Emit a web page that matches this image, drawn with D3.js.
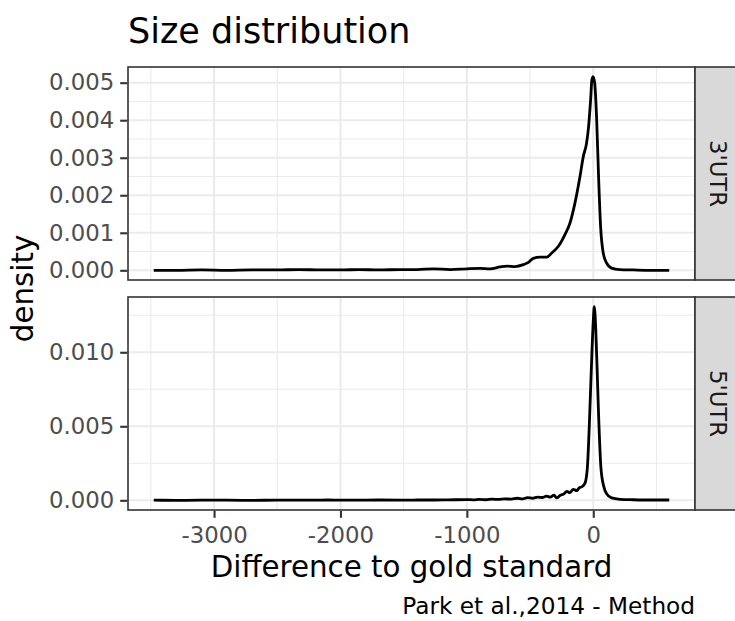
<!DOCTYPE html>
<html>
<head>
<meta charset="utf-8">
<script src="https://cdn.jsdelivr.net/npm/d3@7"></script>
<style>
  html, body { margin: 0; padding: 0; background: #ffffff; }
  svg { display: block; font-family: "DejaVu Sans", sans-serif; }
</style>
</head>
<body>
<script>
// ---------------- data ----------------
const facets = ["3'UTR", "5'UTR"];

// 3'UTR density curve
const x3 = [-3477, -3300, -3100, -2900, -2700, -2500, -2330, -2150, -2000, -1850, -1700, -1526,
  -1395, -1263, -1132, -1000, -895, -816, -737, -684, -618, -553, -513, -474, -421, -368,
  -329, -276, -224, -184, -145, -105, -79, -53, -37, -21, -11, -2, 11, 26, 42, 58, 79, 105,
  145, 211, 316, 450, 601];
const d3utr = [0.00000, 0.00000, 0.00001, 0.00000, 0.00001, 0.00001, 0.00002, 0.00001, 0.00001, 0.00002, 0.00001, 0.00002,
  0.00002, 0.00004, 0.00002, 0.00004, 0.00005, 0.00004, 0.00009, 0.00011, 0.00010, 0.00015, 0.00021, 0.00032, 0.00035, 0.00035,
  0.00046, 0.00064, 0.00095, 0.00126, 0.00179, 0.00250, 0.00303, 0.00339, 0.00383, 0.00454, 0.00507, 0.00516, 0.00500, 0.00410, 0.00250, 0.00117, 0.00046, 0.00020,
  0.00006, 0.00002, 0.00001, 0.00000, 0.00000];

// 5'UTR density curve
const x5 = [-3477, -3300, -3100, -2900, -2700, -2500, -2300, -2100, -1900, -1700, -1526, -1400,
  -1263, -1150, -1000, -950, -900, -850, -800, -750, -700, -650, -600, -560, -520, -480, -440,
  -400, -370, -340, -310, -290, -260, -230, -210, -185, -158, -131, -110, -92, -66, -47, -32,
  -16, 0, 8, 20, 30, 42, 61, 84, 105, 145, 211, 316, 450, 601];
const d5utr = [0.00001, 0.00000, 0.00001, 0.00001, 0.00000, 0.00001, 0.00001, 0.00002, 0.00001, 0.00002, 0.00001, 0.00002,
  0.00002, 0.00003, 0.00005, 0.00003, 0.00006, 0.00004, 0.00008, 0.00006, 0.00010, 0.00008, 0.00014, 0.00010, 0.00018, 0.00014, 0.00022,
  0.00019, 0.00028, 0.00022, 0.00035, 0.00016, 0.00034, 0.00045, 0.00061, 0.00052, 0.00074, 0.00065, 0.00085, 0.00091, 0.00115, 0.00216, 0.00490,
  0.00870, 0.01210, 0.01308, 0.01150, 0.00900, 0.00580, 0.00216, 0.00091, 0.00045, 0.00016, 0.00007, 0.00004, 0.00002, 0.00002];

const xTicks = [-3000, -2000, -1000, 0];
const yTicks3 = [0, 0.001, 0.002, 0.003, 0.004, 0.005];
const yTicks5 = [0, 0.005, 0.010];

const titleText = "Size distribution";
const xTitle = "Difference to gold standard";
const yTitle = "density";
const captionText = "Park et al.,2014 - Method";

// ---------------- layout ----------------
const W = 735, H = 621;
const panelL = 128, panelR = 695;
const panels = [
  { name: facets[0], xs: x3, ys: d3utr, ticks: yTicks3, top: 67, bottom: 280 },
  { name: facets[1], xs: x5, ys: d5utr, ticks: yTicks5, top: 297, bottom: 510 }
];
const stripW = 43;

const svg = d3.select("body").append("svg").attr("width", W).attr("height", H);
svg.append("rect").attr("width", W).attr("height", H).attr("fill", "#ffffff");

const allX = x3.concat(x5);
const [xmin, xmax] = d3.extent(allX);
const xpad = (xmax - xmin) * 0.05;
const x = d3.scaleLinear().domain([xmin - xpad, xmax + xpad]).range([panelL, panelR]);

function minorOf(ticks, domain) {
  const step = ticks[1] - ticks[0];
  const out = [];
  const lo = Math.min(...domain), hi = Math.max(...domain);
  for (let v = ticks[0] - step / 2 - step * 10; v <= hi + 1e-12; v += step) {
    if (v >= lo - 1e-12) out.push(v);
  }
  return out.filter(v => !ticks.some(t => Math.abs(t - v) < step * 1e-6));
}

const fmt = d3.format(".3f");
const hyphenFmt = d => String(d);
const gridCol = "#ebebeb";
const dark = "#333333";
const tickFont = "22.8px";

panels.forEach((p, i) => {
  const ymax = d3.max(p.ys), ymin = 0;
  const ypad = (ymax - ymin) * 0.05;
  const y = d3.scaleLinear().domain([ymin - ypad, ymax + ypad]).range([p.bottom, p.top]);
  const g = svg.append("g");

  // background
  g.append("rect").attr("x", panelL).attr("y", p.top)
    .attr("width", panelR - panelL).attr("height", p.bottom - p.top).attr("fill", "#ffffff");

  // minor grid
  const xMinor = minorOf(xTicks, x.domain());
  const yMinor = minorOf(p.ticks, y.domain());
  g.selectAll(".xminor").data(xMinor).enter().append("line")
    .attr("x1", d => x(d)).attr("x2", d => x(d)).attr("y1", p.top).attr("y2", p.bottom)
    .attr("stroke", gridCol).attr("stroke-width", 1.1);
  g.selectAll(".yminor").data(yMinor).enter().append("line")
    .attr("x1", panelL).attr("x2", panelR).attr("y1", d => y(d)).attr("y2", d => y(d))
    .attr("stroke", gridCol).attr("stroke-width", 1.1);
  // major grid
  g.selectAll(".xmajor").data(xTicks).enter().append("line")
    .attr("x1", d => x(d)).attr("x2", d => x(d)).attr("y1", p.top).attr("y2", p.bottom)
    .attr("stroke", gridCol).attr("stroke-width", 2.1);
  g.selectAll(".ymajor").data(p.ticks).enter().append("line")
    .attr("x1", panelL).attr("x2", panelR).attr("y1", d => y(d)).attr("y2", d => y(d))
    .attr("stroke", gridCol).attr("stroke-width", 2.1);

  // density line
  const pts = p.xs.map((v, k) => [v, p.ys[k]]);
  const line = d3.line().x(d => x(d[0])).y(d => y(d[1])).curve(d3.curveMonotoneX);
  g.append("path").datum(pts).attr("d", line)
    .attr("fill", "none").attr("stroke", "#000000").attr("stroke-width", 2.8)
    .attr("stroke-linejoin", "round").attr("stroke-linecap", "butt");

  // panel border
  g.append("rect").attr("x", panelL).attr("y", p.top)
    .attr("width", panelR - panelL).attr("height", p.bottom - p.top)
    .attr("fill", "none").attr("stroke", dark).attr("stroke-width", 1.6);

  // y axis
  const yAxis = d3.axisLeft(y).tickValues(p.ticks).tickFormat(fmt).tickSizeInner(7).tickSizeOuter(0).tickPadding(6);
  const ya = svg.append("g").attr("transform", `translate(${panelL - 0.8},0)`).call(yAxis);
  ya.select(".domain").remove();
  ya.selectAll(".tick line").attr("stroke", dark).attr("stroke-width", 2.1);
  ya.selectAll(".tick text").attr("fill", "#4d4d4d").style("font-size", tickFont)
    .style("font-family", "DejaVu Sans, sans-serif");

  // strip
  svg.append("rect").attr("x", panelR).attr("y", p.top).attr("width", stripW).attr("height", p.bottom - p.top)
    .attr("fill", "#d9d9d9").attr("stroke", dark).attr("stroke-width", 1.6);
  const cy = (p.top + p.bottom) / 2;
  svg.append("text").attr("transform", `translate(710,${cy}) rotate(90)`)
    .attr("text-anchor", "middle")
    .attr("fill", "#1a1a1a").style("font-size", tickFont).text(p.name);

  if (i === panels.length - 1) {
    const xAxis = d3.axisBottom(x).tickValues(xTicks).tickFormat(hyphenFmt).tickSizeInner(7).tickSizeOuter(0).tickPadding(9);
    const xa = svg.append("g").attr("transform", `translate(0,${p.bottom + 0.8})`).call(xAxis);
    xa.select(".domain").remove();
    xa.selectAll(".tick line").attr("stroke", dark).attr("stroke-width", 2.1);
    xa.selectAll(".tick text").attr("fill", "#4d4d4d").style("font-size", tickFont)
      .style("font-family", "DejaVu Sans, sans-serif");
  }
});

// titles
svg.append("text").attr("x", panelL).attr("y", 43).attr("fill", "#000")
  .style("font-size", "35px").text(titleText);
svg.append("text").attr("x", (panelL + panelR) / 2).attr("y", 577).attr("text-anchor", "middle")
  .attr("fill", "#000").style("font-size", "29.3px").text(xTitle);
svg.append("text").attr("transform", `translate(33,${(67 + 510) / 2}) rotate(-90)`)
  .attr("text-anchor", "middle").attr("fill", "#000").style("font-size", "29.3px").text(yTitle);
svg.append("text").attr("x", panelR).attr("y", 614).attr("text-anchor", "end")
  .attr("fill", "#000").style("font-size", "23.2px").text(captionText);
</script>
</body>
</html>
